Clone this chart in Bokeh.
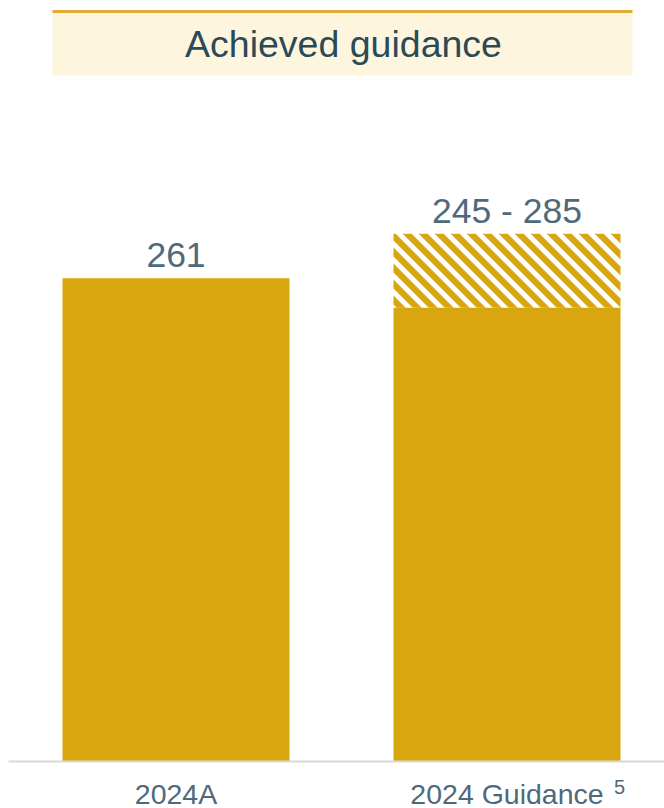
import math
from bokeh.plotting import figure
from bokeh.models import Range1d, ColumnDataSource
from bokeh.core.properties import value
from bokeh.embed import file_html
from bokeh.resources import INLINE

# ---- data ----
categories = ["2024A", "2024 Guidance"]
actual = [261]                 # 2024A
guidance_low = [245]           # 2024 Guidance lower bound
guidance_high = [285]          # 2024 Guidance upper bound
value_labels = ["261", "245 - 285"]
title_text = "Achieved guidance"
footnote = "5"

# ---- styling ----
GOLD = "#D8A60E"
TEXT = "#50697A"
TITLE = "#2C4A56"
FONT = "Liberation Sans"
SHIFT = 14   # svg text baseline compensation (px)
STRIPE_PERIOD = 16.0   # horizontal period of the diagonal hatch (px)
STRIPE_GOLD = 9.0      # horizontal width of each gold stripe (px)

W, H = 664, 808
X0, SX = 175.5, 331.0      # pixel of category 0, pixels per category step
Y0, SY = 761.0, 1.852      # pixel of zero line, pixels per unit

def dx(px):
    return (px - X0) / SX

def dy(py):
    return (Y0 - py) / SY

def to_px(x, y):
    return X0 + x * SX, Y0 - y * SY

p = figure(width=W, height=H, output_backend="svg", toolbar_location=None,
           x_range=Range1d(dx(0), dx(W)), y_range=Range1d(dy(H), dy(0)),
           min_border=0, outline_line_color=None, tools="")
p.axis.visible = False
p.grid.visible = False
p.background_fill_color = "white"
p.border_fill_color = "white"

xs = list(range(len(categories)))
bw = 227 / SX

# header box
p.quad(left=[dx(52)], right=[dx(632)], top=[dy(11)], bottom=[dy(75)],
       fill_color="#FEF5DE", line_color=None)
p.segment(x0=[dx(52)], x1=[dx(632)], y0=[dy(11)], y1=[dy(11)],
          line_color="#E3A936", line_width=3)
p.text(x=[dx(343)], y=[dy(57 - SHIFT)], text=[title_text], text_align="center",
       text_baseline="alphabetic", text_font=value(FONT),
       text_font_size="37.5px", text_color=TITLE)

# solid bars
src = ColumnDataSource(dict(x=[xs[0], xs[1]], top=[actual[0], guidance_low[0]]))
p.vbar(x="x", top="top", bottom=0, width=bw, source=src,
       fill_color=GOLD, line_color=None)

# hatched guidance range: 45-degree stripes clipped to the range rectangle
def clip(poly, f):
    out = []
    n = len(poly)
    for i in range(n):
        a, b = poly[i], poly[(i + 1) % n]
        fa, fb = f(a), f(b)
        if fa >= 0:
            out.append(a)
        if (fa >= 0) != (fb >= 0):
            t = fa / (fa - fb)
            out.append((a[0] + t * (b[0] - a[0]), a[1] + t * (b[1] - a[1])))
    return out

Lp, Tp = to_px(xs[1] - bw / 2, guidance_high[0])
Rp, Bp = to_px(xs[1] + bw / 2, guidance_low[0])
rect = [(Lp, Tp), (Rp, Tp), (Rp, Bp), (Lp, Bp)]
u_min, u_max = Lp - Bp, Rp - Tp
c = math.floor((u_min - Lp) / STRIPE_PERIOD) * STRIPE_PERIOD + Lp
hx, hy = [], []
while c < u_max:
    c0 = c
    poly = clip(rect, lambda q, c0=c0: (q[0] - q[1]) - c0)
    poly = clip(poly, lambda q, c0=c0: c0 + STRIPE_GOLD - (q[0] - q[1]))
    if len(poly) >= 3:
        hx.append([dx(q[0]) for q in poly])
        hy.append([dy(q[1]) for q in poly])
    c += STRIPE_PERIOD
p.patches(xs=hx, ys=hy, fill_color=GOLD, line_color=None)

# value labels
tops = [actual[0], guidance_high[0]]
p.text(x=xs, y=tops, text=value_labels, text_align="center",
       text_baseline="alphabetic", y_offset=-9 - SHIFT, text_font=value(FONT),
       text_font_size="35.5px", text_color=TEXT)

# baseline
p.segment(x0=[dx(8)], x1=[dx(W)], y0=[0], y1=[0], line_color="#D9D9D9",
          line_width=2)

# category labels
p.text(x=xs, y=[0, 0], text=categories, text_align="center",
       text_baseline="alphabetic", y_offset=46 - SHIFT, text_font=value(FONT),
       text_font_size="28.5px", text_color=TEXT)
p.text(x=[xs[1]], y=[0], text=[footnote], text_align="left",
       text_baseline="alphabetic", x_offset=107, y_offset=39 - SHIFT,
       text_font=value(FONT), text_font_size="20px", text_color=TEXT)

open("out.html", "w").write(file_html(p, INLINE))
